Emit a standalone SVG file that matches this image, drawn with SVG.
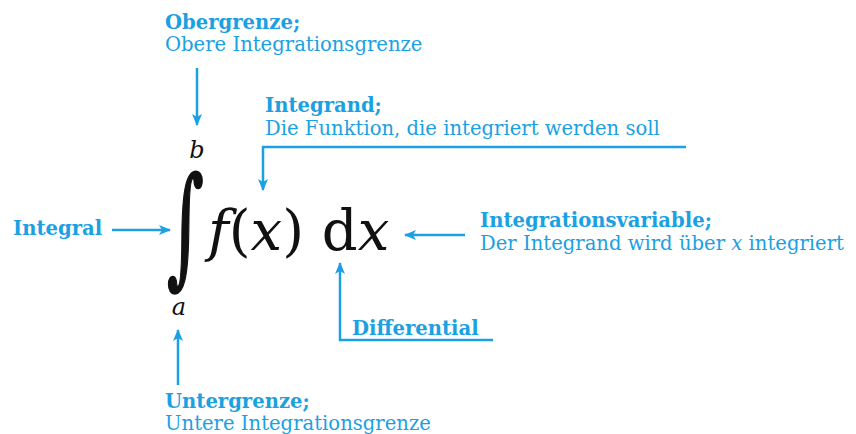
<svg xmlns="http://www.w3.org/2000/svg" width="856" height="434" viewBox="0 0 856 434">
<defs>
<style>
.lb{font-family:"DejaVu Serif","Liberation Serif",serif;font-size:19.6px;fill:#1ba1e2;font-weight:bold}
.lr{font-family:"DejaVu Serif","Liberation Serif",serif;font-size:19.6px;fill:#1ba1e2}
.m{font-family:"DejaVu Serif","Liberation Serif",serif;fill:#111}
.c{stroke:#1ba1e2;stroke-width:2.5;fill:none}
</style>
<marker id="ah" viewBox="0 0 12 10" refX="11" refY="5" markerWidth="12" markerHeight="10" markerUnits="userSpaceOnUse" orient="auto">
<path d="M0,0 L12,5 L0,10 L3,5 Z" fill="#1ba1e2"/>
</marker>
</defs>
<rect width="856" height="434" fill="#fff"/>
<g id="formula">
<text class="m" transform="translate(185.5,270) scale(0.55,1)" x="0" y="0" font-size="130" text-anchor="middle" stroke="#111" stroke-width="2">∫</text>
<text class="m" x="197" y="158" font-size="24" font-style="italic" text-anchor="middle">b</text>
<text class="m" x="179" y="315" font-size="24" font-style="italic" text-anchor="middle">a</text>
<text class="m" x="208" y="250" font-size="56"><tspan font-style="italic">f</tspan>(<tspan font-style="italic">x</tspan>) d<tspan font-style="italic">x</tspan></text>
</g>
<g id="obergrenze">
<text class="lb" x="165" y="29">Obergrenze;</text>
<text class="lr" x="165" y="51">Obere Integrationsgrenze</text>
</g>
<g id="integrand">
<text class="lb" x="265" y="112">Integrand;</text>
<text class="lr" x="265" y="135">Die Funktion, die integriert werden soll</text>
</g>
<g id="integral">
<text class="lb" x="13" y="235">Integral</text>
</g>
<g id="integrationsvariable">
<text class="lb" x="480" y="227">Integrationsvariable;</text>
<text class="lr" x="480" y="250">Der Integrand wird über <tspan font-style="italic">x</tspan> integriert</text>
</g>
<g id="differential">
<text class="lb" x="352" y="335">Differential</text>
</g>
<g id="untergrenze">
<text class="lb" x="165" y="408">Untergrenze;</text>
<text class="lr" x="165" y="430">Untere Integrationsgrenze</text>
</g>
<g id="connectors">
<path class="c" d="M197,68 V125" marker-end="url(#ah)"/>
<path class="c" d="M686,147 H263 V190" marker-end="url(#ah)"/>
<path class="c" d="M112,230 H170" marker-end="url(#ah)"/>
<path class="c" d="M465,235 H405" marker-end="url(#ah)"/>
<path class="c" d="M493,340 H340 V263" marker-end="url(#ah)"/>
<path class="c" d="M178,385 V330" marker-end="url(#ah)"/>
</g>
</svg>
